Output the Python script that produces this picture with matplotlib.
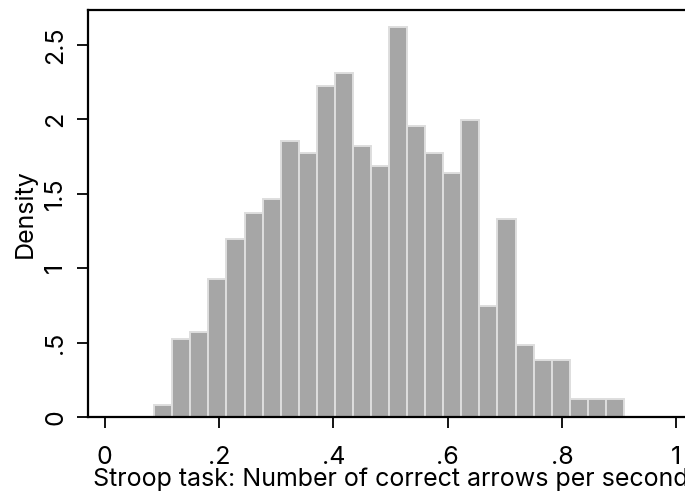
import matplotlib
matplotlib.use('Agg')
import matplotlib.pyplot as plt
import numpy as np

plt.rcParams['font.family'] = ['Inter', 'Liberation Sans', 'DejaVu Sans']

# ── histogram data ──
bin_start = 0.0867
bin_width = 0.0316
density = [0.079, 0.523, 0.568, 0.928, 1.195, 1.370, 1.462, 1.857, 1.771,
           2.226, 2.315, 1.820, 1.685, 2.624, 1.954, 1.773, 1.638, 1.999,
           0.745, 1.332, 0.485, 0.386, 0.386, 0.122, 0.122, 0.122]
x_ticks = [0, 0.2, 0.4, 0.6, 0.8, 1.0]
x_ticklabels = ['0', '.2', '.4', '.6', '.8', '1']
y_ticks = [0, 0.5, 1, 1.5, 2, 2.5]
y_ticklabels = ['0', '.5', '1', '1.5', '2', '2.5']

W, H = 685, 492
fig = plt.figure(figsize=(W / 100, H / 100), dpi=100)
# axes runs past the right edge of the image, like the original
ax = fig.add_axes([88 / W, 1 - 417 / H, (693 - 88) / W, (417 - 10) / H])

lefts = bin_start + bin_width * np.arange(len(density))
ax.bar(lefts, density, width=bin_width, align='edge',
       color='#a6a6a6', edgecolor='#dedede', linewidth=1.4)

ax.set_xlim(-0.029, 1.029)
ax.set_ylim(0, 2.735)

for s in ['left', 'top', 'bottom', 'right']:
    ax.spines[s].set_linewidth(1.6)
    ax.spines[s].set_color('black')

FS = 18
ax.set_xticks(x_ticks)
ax.set_xticklabels(x_ticklabels, fontsize=FS)
ax.set_yticks(y_ticks)
ax.set_yticklabels(y_ticklabels, fontsize=FS, rotation=90, va='center')
ax.tick_params(axis='both', direction='out', length=8, width=1.3)
ax.tick_params(axis='x', pad=13)
ax.tick_params(axis='y', pad=7)

ax.set_ylabel('Density', fontsize=FS, labelpad=5)
ax.set_xlabel('Stroop task: Number of correct arrows per second', fontsize=FS, labelpad=-1)

fig.savefig('out.png', dpi=100, facecolor='white')
